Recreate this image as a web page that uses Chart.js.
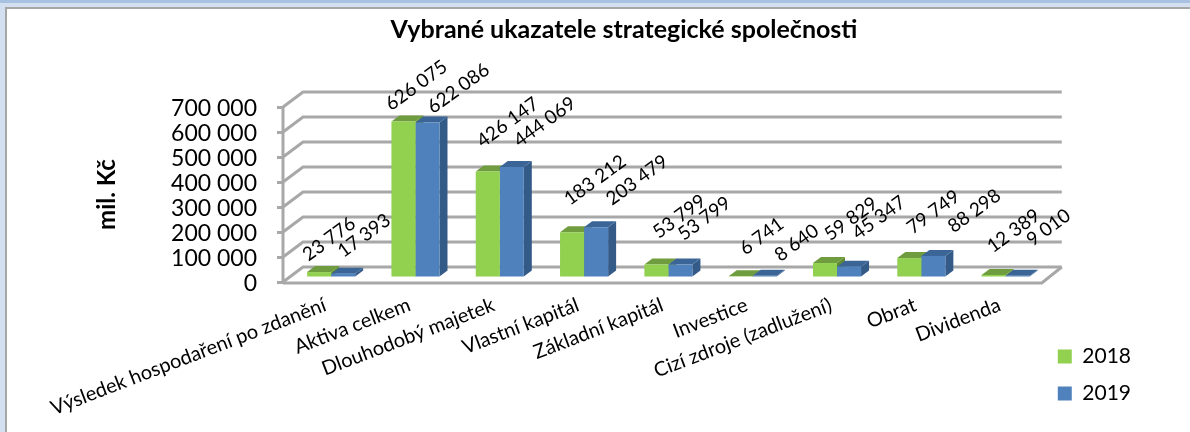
<!DOCTYPE html>
<html lang="cs">
<head>
<meta charset="utf-8">
<title>Vybrané ukazatele strategické společnosti</title>
<script src="https://cdn.jsdelivr.net/npm/chart.js@4"></script>
<style>
html,body{margin:0;padding:0;width:1190px;height:432px;overflow:hidden;background:#d3e0f1}
#strip{position:absolute;left:0;top:0;width:1190px;height:3px;background:#a9c1e1}
#frame{position:absolute;left:5px;top:7px;width:1185px;height:425px;background:#fff;border-left:2px solid #a6a6a6;border-top:2px solid #a6a6a6;box-sizing:border-box}
canvas{position:absolute;left:0;top:0}
</style>
</head>
<body>
<div id="strip"></div><div id="frame"></div>
<canvas id="c" width="1190" height="432"></canvas>
<script>
const categories = ["Výsledek hospodaření po zdanění","Aktiva celkem","Dlouhodobý majetek","Vlastní kapitál","Základní kapitál","Investice","Cizí zdroje (zadlužení)","Obrat","Dividenda"];
const values2018 = [23776,626075,426147,183212,53799,6741,59829,79749,12389];
const values2019 = [17393,622086,444069,203479,53799,8640,45347,88298,9010];
const seriesNames = ["2018","2019"];
const yMin = 0, yMax = 700000, yStep = 100000;

// hand-placed data label offsets from the top of each bar, as in the original
const nudge2018 = [[10,-33],[13,-36],[20,-49],[23,-52],[23,-48],[21,-40],[26,-44],[24,-46],[20,-44]];
const nudge2019 = [[21,-38],[31,-34],[33,-45],[41,-47],[24,-46],[32,-33],[30,-49],[41,-45],[31,-48]];

const FONT = "Lato, Carlito, sans-serif";
const fmt = v => String(v).replace(/\B(?=(\d{3})+$)/g, " ");
const wall = {dx:20, dy:-15};      // depth of the floor and back wall
const barShift = {x:6, y:-4};      // bars stand inside the floor
const barDepth = {dx:8, dy:-6};
const GRID = "#a8a8a8";
const faces = [{top:"#6f9c3e",side:"#5f8a32"},{top:"#3a6596",side:"#345a88"}];

const fake3d = {
  id:"fake3d",
  beforeDatasetsDraw(chart){
    const {ctx, chartArea:a, scales:{y}} = chart;
    ctx.save();
    ctx.strokeStyle = GRID; ctx.lineWidth = 3; ctx.lineJoin = "miter";
    const floorY = y.getPixelForValue(yMin);
    // floor
    ctx.beginPath();
    ctx.moveTo(a.left, floorY+1);
    ctx.lineTo(a.right, floorY+1);
    ctx.lineTo(a.right+wall.dx, floorY+wall.dy);
    ctx.stroke();
    // walls
    for (const t of y.ticks){
      const p = y.getPixelForValue(t.value);
      ctx.beginPath();
      ctx.moveTo(a.left, p);
      ctx.lineTo(a.left+wall.dx, p+wall.dy);
      ctx.lineTo(a.right+wall.dx, p+wall.dy);
      ctx.stroke();
    }
    ctx.beginPath();
    ctx.moveTo(a.left, y.getPixelForValue(yMax));
    ctx.lineTo(a.left, floorY+1);
    ctx.stroke();
    ctx.restore();
    // depth faces of every bar, behind all the front faces
    ctx.save();
    ctx.translate(barShift.x, barShift.y);
    chart.data.datasets.forEach((ds,i)=>{
      const f = faces[i];
      for (const el of chart.getDatasetMeta(i).data){
        const l = el.x - el.width/2, r = el.x + el.width/2, t = el.y, b = el.base;
        ctx.fillStyle = f.side;
        ctx.beginPath();
        ctx.moveTo(r,t); ctx.lineTo(r+barDepth.dx,t+barDepth.dy);
        ctx.lineTo(r+barDepth.dx,b+barDepth.dy); ctx.lineTo(r,b);
        ctx.closePath(); ctx.fill();
        ctx.fillStyle = f.top;
        ctx.beginPath();
        ctx.moveTo(l,t); ctx.lineTo(l+barDepth.dx,t+barDepth.dy);
        ctx.lineTo(r+barDepth.dx,t+barDepth.dy); ctx.lineTo(r,t);
        ctx.closePath(); ctx.fill();
      }
    });
    ctx.restore();
  },
  beforeDatasetDraw(chart){
    chart.ctx.save();
    chart.ctx.translate(barShift.x, barShift.y);
  },
  afterDatasetDraw(chart){ chart.ctx.restore(); },
  afterDatasetsDraw(chart){
    const ctx = chart.ctx;
    const nudges = [nudge2018, nudge2019];
    ctx.save();
    ctx.fillStyle = "#000";
    ctx.font = "19px " + FONT;
    ctx.textAlign = "center"; ctx.textBaseline = "middle";
    chart.data.datasets.forEach((ds,i)=>{
      chart.getDatasetMeta(i).data.forEach((el,j)=>{
        ctx.save();
        ctx.translate(el.x+barShift.x+nudges[i][j][0], el.y+barShift.y+nudges[i][j][1]);
        ctx.rotate(-36*Math.PI/180);
        ctx.fillText(fmt(ds.data[j]),0,0);
        ctx.restore();
      });
    });
    ctx.restore();
  }
};

new Chart(document.getElementById("c"),{
  type:"bar",
  data:{
    labels:categories,
    datasets:[
      {label:seriesNames[0],data:values2018,backgroundColor:"#92d050",clip:false},
      {label:seriesNames[1],data:values2019,backgroundColor:"#4f81bd",clip:false}
    ]
  },
  options:{
    responsive:false,animation:false,
    layout:{padding:{left:107,right:49,top:8,bottom:12}},
    datasets:{bar:{categoryPercentage:0.57,barPercentage:1,borderWidth:0}},
    plugins:{
      title:{display:true,text:"Vybrané ukazatele strategické společnosti",color:"#000",
        font:{family:FONT,size:25,weight:"bold"},padding:{top:7,bottom:62}},
      legend:{display:true,position:"right",align:"end",
        labels:{color:"#000",font:{family:FONT,size:21},boxWidth:14,boxHeight:14,padding:16}},
      tooltip:{enabled:false}
    },
    scales:{
      x:{
        grid:{display:false},border:{display:false},
        ticks:{autoSkip:false,minRotation:21,maxRotation:21,color:"#000",font:{family:FONT,size:20},padding:3},
        afterFit(s){s.height=138;}
      },
      y:{
        min:yMin,max:yMax,
        grid:{drawOnChartArea:false,color:GRID,lineWidth:3,tickLength:6},border:{display:false},
        ticks:{autoSkip:false,stepSize:yStep,color:"#000",font:{family:FONT,size:23},padding:20,labelOffset:2,callback:v=>fmt(v)},
        title:{display:true,text:"mil. Kč",color:"#000",font:{family:FONT,size:24,weight:"bold"},padding:{top:-14,bottom:0}},
        afterFit(s){s.width=176;}
      }
    }
  },
  plugins:[fake3d]
});
</script>
</body>
</html>
